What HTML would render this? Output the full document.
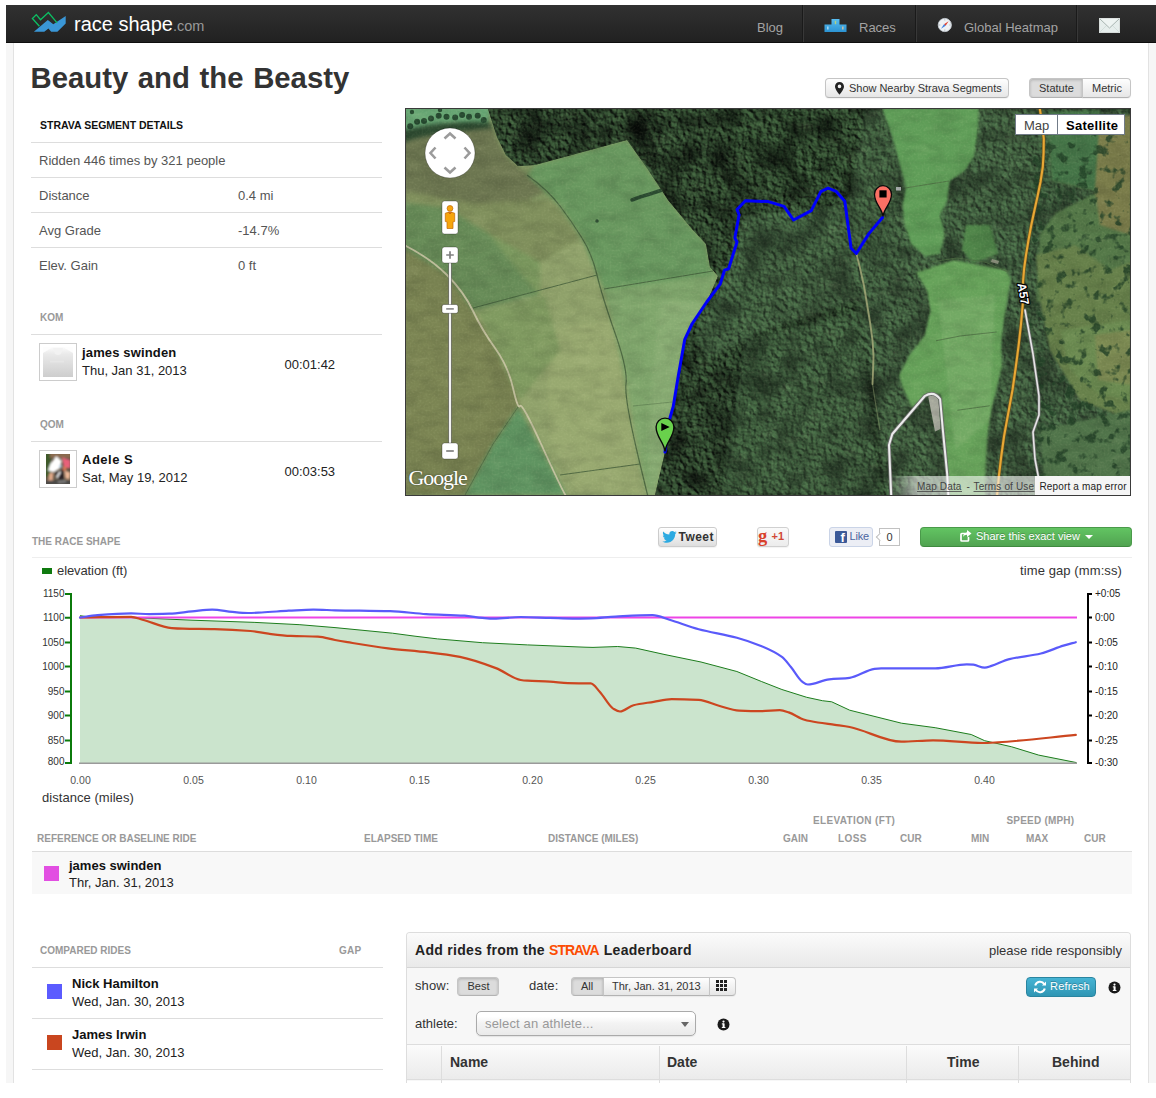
<!DOCTYPE html>
<html>
<head>
<meta charset="utf-8">
<title>Beauty and the Beasty - raceshape.com</title>
<style>
*{box-sizing:border-box;margin:0;padding:0}
html,body{width:1156px;height:1098px;overflow:hidden;background:#fff}
body{font-family:"Liberation Sans",sans-serif;font-size:13px;color:#333;position:relative}
.abs{position:absolute}
.t{position:absolute;white-space:nowrap;line-height:1}
#hdr{position:absolute;left:6px;top:5px;width:1150px;height:38px;background:linear-gradient(#313131,#212121);border-bottom:1px solid #0e0e0e}
#hdr .sep{position:absolute;top:0;width:2px;height:37px;background:#1a1a1a;border-right:1px solid #383838}
#hdr .nav{position:absolute;color:#a3a3a3;font-size:13px;line-height:1;white-space:nowrap;top:15.7px}
#wrap{position:absolute;left:6px;top:43px;width:1150px;height:1040px;background:#f6f6f6}
#page{position:absolute;left:13px;top:43px;width:1136px;height:1040px;background:#fff;border-left:1px solid #e2e2e2;border-right:1px solid #e2e2e2}
.hr{position:absolute;height:1px;background:#ddd}
.cap{font-weight:bold;font-size:10px;color:#999}
.b13{font-weight:bold;font-size:13px;color:#111}
.d13{font-size:13px;color:#222}
.g13{font-size:13px;color:#555}
.btn{position:absolute;border:1px solid #c5c5c5;border-bottom-color:#b3b3b3;border-radius:4px;background:linear-gradient(#fefefe,#e6e6e6);font-size:11px;color:#333;white-space:nowrap;box-shadow:0 1px 1px rgba(0,0,0,.05)}
.btn.on{background:#dcdcdc;box-shadow:inset 0 1px 3px rgba(0,0,0,.2)}
.sq{position:absolute;width:15px;height:15px}
.av{position:absolute;width:38px;height:38px;border:1px solid #ccc;background:#fff;padding:2px}
.av div{width:32px;height:32px}
</style>
</head>
<body>
<div id="wrap"></div>
<div id="page"></div>

<!-- HEADER -->
<div id="hdr">
  <svg class="abs" style="left:24px;top:5px" width="40" height="28" viewBox="30 10 40 28">
    <polygon points="33.9,31.8 47.8,20.1 53.3,24.2 65.7,15.9 65.7,23.5 57.4,31.8 51.2,31.8 48.4,28.4 44.3,31.8" fill="#3a96d6"/>
    <polyline points="39.4,26.3 32.4,18.5 36.3,14.7 40.5,19.7 48.4,12.5 57.1,22.8" fill="none" stroke="#0cbf63" stroke-width="1.3"/>
  </svg>
  <div class="t" id="logo1" style="left:68px;top:9px;font-size:20px;color:#fff">race shape</div>
  <div class="t" id="logo2" style="left:167px;top:14px;font-size:14.5px;color:#999">.com</div>
  <div class="nav" id="nblog" style="left:751px">Blog</div>
  <div class="sep" style="left:796px"></div>
  <svg class="abs" style="left:818px;top:14px" width="23" height="13" viewBox="0 0 23 13"><defs><linearGradient id="pod" x1="0" y1="0" x2="0" y2="1"><stop offset="0" stop-color="#58bdf0"/><stop offset="1" stop-color="#2c93d2"/></linearGradient></defs><path d="M7.500 0h8v5.500h7v7.500h-22v-7.500h7z" fill="url(#pod)"/><rect x="10.800" y="1.800" width="1.400" height="3.400" fill="#c8d86a" opacity=".8"/><rect x="3" y="7.500" width="1.600" height="3" fill="#bfe3f7" opacity=".8"/><rect x="18" y="7.500" width="1.600" height="3" fill="#e8c79a" opacity=".8"/></svg>
  <div class="nav" id="nraces" style="left:853px">Races</div>
  <div class="sep" style="left:909px"></div>
  <svg class="abs" style="left:931px;top:12.300px" width="16" height="16" viewBox="0 0 16 16"><circle cx="7.800" cy="8" r="6.600" fill="#eef2f5" stroke="#c5ccd2" stroke-width=".9"/><g stroke="#9aa4ad" stroke-width=".7"><path d="M7.800 2.200v1.300M7.800 12.500v1.300M2 8h1.300M12.300 8h1.300"/></g><path d="M11.600 4.200L8.600 8.800 7 7.200z" fill="#e04030"/><path d="M4 11.800L7 7.200l1.600 1.600z" fill="#3c7fe0"/></svg>
  <div class="nav" id="nheat" style="left:958px">Global Heatmap</div>
  <div class="sep" style="left:1070px"></div>
  <svg class="abs" style="left:1093px;top:13px" width="21" height="15" viewBox="0 0 21 15"><rect x=".3" y=".3" width="20.400" height="14.400" fill="#e6eeec" stroke="#f4f8f7" stroke-width=".6"/><path d="M.5 14.500L8 7M20.500 14.500L13 7" stroke="#d3dedb" stroke-width="1" fill="none"/><path d="M.8 .8L10.500 10 20.200 .8" fill="#eef4f2" stroke="#a8b5b1" stroke-width="1"/></svg>
</div>

<!-- TITLE -->
<div class="t" id="title" style="left:30.5px;top:63.3px;font-size:29.3px;font-weight:bold;color:#333;word-spacing:1.5px">Beauty and the Beasty</div>

<!-- TOP RIGHT BUTTONS -->
<div class="btn" style="left:825px;top:78px;width:184px;height:20px"></div>
<svg class="abs" style="left:835px;top:82px" width="9" height="13" viewBox="0 0 9 13"><path d="M4.5 0C2 0 0 2 0 4.4 0 7.5 4.5 12.6 4.5 12.6S9 7.5 9 4.400C9 2 7 0 4.500 0zm0 6.200a1.800 1.800 0 1 1 0-3.600 1.800 1.800 0 0 1 0 3.600z" fill="#222"/></svg>
<div class="t" id="nearby" style="left:849px;top:83px;font-size:11px;color:#333;letter-spacing:-.03px">Show Nearby Strava Segments</div>
<div class="btn on" style="left:1029px;top:78px;width:54px;height:20px;border-radius:4px 0 0 4px"></div>
<div class="btn" style="left:1082px;top:78px;width:49px;height:20px;border-radius:0 4px 4px 0"></div>
<div class="t" id="statute" style="left:1039px;top:83px;font-size:11px;color:#333">Statute</div>
<div class="t" id="metric" style="left:1092px;top:83px;font-size:11px;color:#333">Metric</div>

<!-- LEFT PANEL -->
<div class="t" id="ssd" style="left:40px;top:120px;font-size:10.5px;font-weight:bold;color:#111">STRAVA SEGMENT DETAILS</div>
<div class="hr" style="left:31px;top:142px;width:351px"></div>
<div class="t g13" id="ridden" style="left:39px;top:154px">Ridden 446 times by 321 people</div>
<div class="hr" style="left:31px;top:177px;width:351px"></div>
<div class="t g13" style="left:39px;top:189px">Distance</div><div class="t g13" style="left:238px;top:189px">0.4 mi</div>
<div class="hr" style="left:31px;top:212px;width:351px"></div>
<div class="t g13" style="left:39px;top:224px">Avg Grade</div><div class="t g13" style="left:238px;top:224px">-14.7%</div>
<div class="hr" style="left:31px;top:247px;width:351px"></div>
<div class="t g13" style="left:39px;top:259px">Elev. Gain</div><div class="t g13" style="left:238px;top:259px">0 ft</div>

<div class="t cap" id="kom" style="left:40px;top:312.500px">KOM</div>
<div class="hr" style="left:31px;top:334px;width:351px"></div>
<div class="av" style="left:39px;top:343px"></div>
<svg class="abs" style="left:43px;top:347px" width="30" height="30" viewBox="0 0 30 30"><defs><linearGradient id="avg" x1="0" y1="0" x2="0" y2="1"><stop offset="0" stop-color="#fbfbfb"/><stop offset=".25" stop-color="#e9e9e9"/><stop offset="1" stop-color="#cdcdcd"/></linearGradient><filter id="avb"><feGaussianBlur stdDeviation=".7"/></filter></defs><rect width="30" height="30" fill="url(#avg)"/><g filter="url(#avb)"><path d="M0,0H10L0,6Z M30,0H20L30,6Z" fill="#fdfdfd"/><path d="M10,1h10l-2,6q-3,2 -6,0z" fill="#f2f2f2"/><rect x="7" y="13.500" width="14" height="2" fill="#e6e6e6"/></g></svg>
<div class="t b13" id="kname" style="left:82px;top:345.6px;letter-spacing:.15px">james swinden</div>
<div class="t d13" style="left:82px;top:363.7px">Thu, Jan 31, 2013</div>
<div class="t d13" id="ktime" style="left:284.5px;top:358px">00:01:42</div>

<div class="t cap" style="left:40px;top:419.500px">QOM</div>
<div class="hr" style="left:31px;top:441px;width:351px"></div>
<div class="av" style="left:39px;top:450px"></div>
<svg class="abs" style="left:46px;top:454px" width="24" height="30" viewBox="0 0 24 30"><defs><filter id="avb2" x="-20%" y="-20%" width="140%" height="140%"><feGaussianBlur stdDeviation="1"/></filter><clipPath id="avc"><rect width="24" height="30"/></clipPath></defs><g clip-path="url(#avc)"><rect width="24" height="30" fill="#5a5040"/><g filter="url(#avb2)"><rect x="-1" y="-1" width="6" height="24" fill="#3d5a2a"/><rect x="4" y="-1" width="21" height="5" fill="#8a6a50"/><path d="M15.700,3.600L24.500,5.900 24.500,14.500 18,13.500z" fill="#e8607a"/><path d="M10.200,2.300L15.700,6.800 13.900,14.600 7.500,18.200 2,16.400 4.300,10z" fill="#fff"/><path d="M8.400,18.200L18,15.400 17.500,27.300 10.200,24z" fill="#2a2428"/><path d="M3.400,19L7.500,18.500 7,26.400 1.600,28.200z" fill="#e0a888"/><path d="M18.400,16.400L24.500,18.200 23.500,25.500 19.400,24.600z" fill="#ecb898"/><path d="M17,12l4,1 -1,4 -3.500,-1z" fill="#d87858"/><circle cx="14.500" cy="12.300" r="1.500" fill="#a8c8e0"/><path d="M14.300,17.500L10.500,24" stroke="#fff" stroke-width="1.600"/><rect x="-1" y="26.500" width="26" height="4" fill="#4a4a4a"/><path d="M12,27l8,-1 0,2 -8,1z" fill="#888"/></g></g></svg>
<div class="t b13" style="left:82px;top:452.8px;letter-spacing:.5px">Adele S</div>
<div class="t d13" style="left:82px;top:470.9px">Sat, May 19, 2012</div>
<div class="t d13" style="left:284.5px;top:465px">00:03:53</div>

<!-- MAP -->
<div class="abs" style="left:405px;top:108px;width:726px;height:388px;background:#3a3a3a"></div>
<svg class="abs" style="left:406px;top:109px" width="724" height="386" viewBox="406 109 724 386">
<defs>
  <filter color-interpolation-filters="sRGB" id="fz" x="0" y="0" width="100%" height="100%"><feGaussianBlur stdDeviation="2.2"/></filter>
  <filter color-interpolation-filters="sRGB" id="fz05" x="-10%" y="-10%" width="120%" height="120%"><feGaussianBlur stdDeviation=".6"/></filter>
  <filter color-interpolation-filters="sRGB" id="fz1" x="0" y="0" width="100%" height="100%"><feGaussianBlur stdDeviation="1"/></filter>
  <filter color-interpolation-filters="sRGB" id="trees" x="0" y="0" width="100%" height="100%">
    <feTurbulence type="fractalNoise" baseFrequency="0.22" numOctaves="3" seed="7" result="n"/>
    <feColorMatrix in="n" type="matrix" values="0 0 0 0 0  0 0 0 0 0  0 0 0 0 0  1.6 1.6 0 0 -1.25"/>
  </filter>
  <filter color-interpolation-filters="sRGB" id="grain" x="0" y="0" width="100%" height="100%">
    <feTurbulence type="fractalNoise" baseFrequency="0.5" numOctaves="2" seed="3" result="n"/>
    <feColorMatrix in="n" type="matrix" values="0 0 0 0 1  0 0 0 0 1  0 0 0 0 0.8  1.2 1.2 0 0 -1.05"/>
  </filter>
  <filter color-interpolation-filters="sRGB" id="treesL" x="0" y="0" width="100%" height="100%">
    <feTurbulence type="fractalNoise" baseFrequency="0.3" numOctaves="2" seed="21" result="n"/>
    <feColorMatrix in="n" type="matrix" values="0 0 0 0 0.36  0 0 0 0 0.50  0 0 0 0 0.37  1.8 1.8 0 0 -1.7"/>
  </filter>
  <filter color-interpolation-filters="sRGB" id="sparse" x="0" y="0" width="100%" height="100%">
    <feTurbulence type="fractalNoise" baseFrequency="0.09" numOctaves="3" seed="5" result="n"/>
    <feColorMatrix in="n" type="matrix" values="0 0 0 0 0.13  0 0 0 0 0.25  0 0 0 0 0.15  5 5 0 0 -5.4"/>
  </filter>
  <filter color-interpolation-filters="sRGB" id="sparse2" x="0" y="0" width="100%" height="100%">
    <feTurbulence type="fractalNoise" baseFrequency="0.07" numOctaves="3" seed="11" result="n"/>
    <feColorMatrix in="n" type="matrix" values="0 0 0 0 0.12  0 0 0 0 0.22  0 0 0 0 0.14  6 6 0 0 -6.9"/>
  </filter>
  <filter color-interpolation-filters="sRGB" id="canopy" x="0" y="0" width="100%" height="100%">
    <feTurbulence type="fractalNoise" baseFrequency="0.2" numOctaves="3" seed="4" result="n"/>
    <feDiffuseLighting in="n" surfaceScale="2.6" diffuseConstant="1" lighting-color="#4d7549" result="l"><feDistantLight azimuth="140" elevation="40"/></feDiffuseLighting>
    <feGaussianBlur in="l" stdDeviation="0.55" result="lb"/>
    <feTurbulence type="fractalNoise" baseFrequency="0.035" numOctaves="2" seed="9" result="lowf"/>
    <feColorMatrix in="lowf" type="matrix" values="0 0 0 0 0  0 0 0 0 0  0 0 0 0 0  -2.2 0 0 0 1.25" result="shade"/>
    <feComposite in="shade" in2="lb" operator="over" result="c"/>
    <feComposite in="c" in2="SourceGraphic" operator="in"/>
  </filter>
  <filter color-interpolation-filters="sRGB" id="ftex" x="0" y="0" width="100%" height="100%">
    <feTurbulence type="fractalNoise" baseFrequency="0.045 0.09" numOctaves="4" seed="12" result="n"/>
    <feColorMatrix in="n" type="matrix" values="0 0 0 0 0  0 0 0 0 0  0 0 0 0 0  2.4 0 0 0 -0.95" result="dark"/>
    <feColorMatrix in="n" type="matrix" values="0 0 0 0 1  0 0 0 0 1  0 0 0 0 .8  0 -2.4 0 0 0.98" result="light"/>
    <feComposite in="dark" in2="light" operator="over"/>
  </filter>
  <clipPath id="forestclip"><path id="forestp" d="M488,109 L497,137 506,155 518,166 535,165 627,140 647,168 668,200 692,229 706,244 710,267 718,276 707,302 692,324 685,340 678,375 673,407 669,421 665,452 655,495 1130,495 1130,109Z"/></clipPath>
  <clipPath id="fieldclip"><path d="M406,109 L488,109 497,137 506,155 518,166 535,165 627,140 647,168 668,200 692,229 706,244 710,267 718,276 707,302 692,324 685,340 678,375 673,407 669,421 665,452 655,495 406,495Z"/></clipPath>
  <linearGradient id="gO" x1="0" y1="0" x2="0" y2="1"><stop offset="0" stop-color="#5f6a44"/><stop offset=".3" stop-color="#6c7a4e"/><stop offset=".55" stop-color="#63824f"/><stop offset="1" stop-color="#727848"/></linearGradient>
  <linearGradient id="gG" x1="0" y1="0" x2="0" y2="1"><stop offset="0" stop-color="#5e9060"/><stop offset=".45" stop-color="#5c8c58"/><stop offset=".55" stop-color="#7ea46c"/><stop offset="1" stop-color="#86a76f"/></linearGradient>
</defs>
<!-- base forest -->
<rect x="406" y="109" width="724" height="386" fill="#29412d"/>
<!-- lighter mixed woodland on right half -->
<g filter="url(#fz)">
<path d="M860,109 L1130,109 1130,495 880,495 870,400 850,300 840,200Z" fill="#2f4b33"/>
<path d="M740,330 L860,300 880,495 700,495 710,400Z" fill="#314d34"/>
<path d="M720,109 L860,109 850,180 770,195 735,160Z" fill="#2c4630"/>
<path d="M740,215 L850,205 856,300 760,330 700,360 690,330 720,280Z" fill="#304b33"/>
<path d="M488,109 L720,109 735,160 700,235 668,200 647,168 627,140 535,165 518,166 506,155Z" fill="#1f3324"/>
<path d="M690,330 L760,330 720,495 656,495 668,420Z" fill="#243b29"/>
</g>
<!-- FIELDS left -->
<g clip-path="url(#fieldclip)">
 <rect x="406" y="109" width="330" height="386" fill="#829863"/>
 <g filter="url(#fz)">
  <!-- upper-left olive -->
  <path d="M400,138 L489,121 505,156 524,172 545,192 520,204 478,206 441,202 400,196Z" fill="#6c7650"/>
  <path d="M400,190 L441,198 478,204 524,200 552,200 575,230 585,262 540,270 500,250 470,222 440,208 400,204Z" fill="#7f8f5c"/>
  <!-- greener lower-left of upper area -->
  <path d="M400,202 L447,208 489,234 522,275 540,296 474,312 447,275 400,246Z" fill="#678c58"/>
  <path d="M489,234 L540,262 585,262 597,275 540,296 522,275Z" fill="#7a985e"/>
  <!-- pale mid fields between track and hedge -->
  <path d="M540,262 L582,238 597,275 615,333 626,384 640,464 648,495 566,495 542,446 520,406 513,388 495,348 473,311 540,295Z" fill="#90a26b"/>
  <path d="M545,330 L610,320 630,420 640,495 580,495 550,440Z" fill="#98a970"/>
  <path d="M478,312 L545,296 560,350 520,400 495,348Z" fill="#7f9a60"/>
  <!-- green right field -->
  <path d="M527,175 L535,165 627,140 647,168 668,200 692,229 706,244 710,267 718,276 604,290 597,275 582,238 560,206Z" fill="#68985f"/>
  <path d="M604,290 L718,274 707,302 692,324 685,340 678,375 673,407 669,421 665,452 655,495 648,495 640,464 626,384 615,333Z" fill="#7fa66c"/>
  <path d="M660,300 L707,302 692,324 685,340 678,375 673,407 669,421 665,452 655,495 648,495 650,400Z" fill="#88ac73"/>
  <!-- left of track brown/olive -->
  <path d="M400,246 L447,275 473,311 495,348 513,388 520,406 493,444 465,495 400,495Z" fill="#778150"/>
  <path d="M400,300 L440,290 480,340 500,400 470,460 400,440Z" fill="#7b8553"/>
  <!-- green triangle -->
  <path d="M518,407 L566,495 465,495 493,444Z" fill="#5f9461"/>
  <!-- top-left light patch and tree band -->
  <path d="M400,100 L492,100 489,122 457,122 426,126 400,132Z" fill="#66a573"/>
  <path d="M400,131 L426,125.500 457,122 488,121.500 493,128 457,131.500 422,137 400,143Z" fill="#2c4a30"/>
 </g>
 <!-- hedges -->
 <g fill="none" stroke="#3f5a38" stroke-width="1.2" opacity=".8">
  <path d="M527,175 Q548,190 560,206 T582,238 597,275 615,333 626,384 640,464 648,495"/>
  <path d="M473,308 L597,275" stroke-width="1"/>
  <path d="M604,289 L713,271" stroke-width="1"/>
  <path d="M560,475 L640,464" stroke-width="1"/>
  <path d="M633,406 L672,402" stroke-width=".8" opacity=".6"/>
  <path d="M518,407 L493,444 465,495" stroke-width="1" opacity=".7"/>
 </g>
 <g fill="#264a30" filter="url(#fz05)"><circle cx="410.2" cy="126.2" r="3.0"/><circle cx="417.1" cy="121.8" r="3.0"/><circle cx="424.0" cy="121.0" r="3.0"/><circle cx="431.0" cy="118.4" r="3.0"/><circle cx="438.7" cy="115.8" r="3.0"/><circle cx="446.5" cy="116.7" r="3.0"/><circle cx="455.2" cy="117.5" r="3.0"/><circle cx="462.1" cy="114.9" r="3.0"/><circle cx="469.0" cy="116.7" r="3.0"/><circle cx="477.7" cy="115.8" r="3.0"/><circle cx="483.7" cy="120.1" r="3.0"/><circle cx="412.0" cy="112.0" r="2.2"/><circle cx="440.0" cy="110.0" r="2.2"/></g>
 <path d="M632,200 l8,-3 10,-3 12,-4" stroke="#2a4a30" stroke-width="3.500" fill="none" stroke-linecap="round"/>
 <circle cx="597" cy="221" r="1.800" fill="#2f4f34"/>
 <!-- track -->
 <path d="M404,245 Q430,258 447,275 T473,311 495,348 513,388 520,406 542,446 566,496" fill="none" stroke="#cbc7a6" stroke-width="1.800" opacity=".9"/>
</g>
<!-- tree texture -->
<g clip-path="url(#forestclip)">
<rect x="406" y="109" width="724" height="386" filter="url(#canopy)" fill="#000" opacity=".8"/>
</g>
<g filter="url(#fz)" opacity=".2" clip-path="url(#forestclip)">
<path d="M865,109 L1130,109 1130,495 885,495 875,400 858,300 850,200Z" fill="#7fb07f"/>
<path d="M745,215 L850,205 858,300 765,330 705,360 695,330 725,280Z" fill="#7fb07f"/>
<path d="M745,340 L860,310 880,495 720,495Z" fill="#6fa070"/>
</g>
<!-- RIGHT MEADOWS -->
<g filter="url(#fz1)">
 <path d="M882,108 L892.500,137 901,169 906,188 902.500,205 904.700,225 911,244 925.400,256.300 940,253.800 944.800,234.400 940,215 947.200,200.400 949.700,181 964.200,171.200 974,156.600 977.600,132.300 978.800,108Z" fill="#5f9d58"/>
 <path d="M916,272.500 L954,260 1005.500,270 1011,279 1008,295 1004.400,317 1001,344 1002,366.600 996.600,389 992,407 987.600,434 985.400,474 985,496 948.500,496 947.200,474 944,429 940.500,394 925,396 912,408 902.400,386.700 899,375.500 909,355.400 924.800,335.200 930.400,310.500 927,290.300Z" fill="#66a25a"/>
 <path d="M938,300 L995,295 990,420 955,450Z" fill="#72a964"/>
 <path d="M966,225 L990,225 998,254 973,263 962,250Z" fill="#4f8549"/>
 <!-- moor far right -->
 <path d="M1048,135 L1131,135 1131,302 1036,302 1040,234 1056,213 1098,192 1052,181Z" fill="#547848"/>
 <path d="M1095,120 L1131,115 1131,235 1100,225 1092,170Z" fill="#7a7c4a"/>
 <path d="M1036,255 L1075,245 1110,270 1131,262 1131,420 1080,400 1050,350 1040,300Z" fill="#66804a"/>
 <path d="M1060,330 L1131,320 1131,400 1100,395 1070,370Z" fill="#6a8a50"/>
 <path d="M1095,335 L1131,330 1131,385 1098,380Z" fill="#7b8a52"/>
 <path d="M1048,112 L1100,110 1095,190 1052,180Z" fill="#447447"/>
 <path d="M1040,430 L1131,410 1131,495 1045,495Z" fill="#50744a"/>
</g>
<g fill="none" stroke="#4a6a40" stroke-width="1.100" opacity=".75"><path d="M936,340.800 L960,336 996.600,332"/><path d="M957.300,410.300 L989.800,405.800"/><path d="M905,188 L949,181"/><path d="M930,262 L957,258 985,262 1008,272"/></g>
<path d="M928.200,396.500 L938,394 940.500,429 935,431.500Z" fill="#b4b4aa" opacity=".9"/>
<rect x="896" y="187" width="5" height="3.500" fill="#b9bcc0" opacity=".85"/>
<path d="M992,259 l7,2 -1,3 -7,-2z" fill="#9a9a8a" opacity=".8"/>
<!-- scattered trees on moor + meadow edges -->
<rect x="1030" y="109" width="100" height="386" filter="url(#sparse)" opacity=".8"/>
<rect x="406" y="109" width="724" height="386" filter="url(#grain)" opacity=".10"/>
<rect x="406" y="109" width="724" height="386" filter="url(#ftex)" opacity=".09"/>
<!-- dirt track from end -->
<path d="M856.500,254 L860,268 864,286 867,304 870,322 872.500,340 873.500,356 873,372 872.500,384" fill="none" stroke="#a3a878" stroke-width="1.900" opacity=".85" stroke-linecap="round"/><path d="M872.500,384 L875,400 878,418 880,430" fill="none" stroke="#8a9a6c" stroke-width="1.200" opacity=".5"/>
<!-- white roads -->
<g fill="none" stroke-linecap="round" stroke-linejoin="round">
 <path d="M891.200,496 L889,445 892.300,434 924.800,396 Q933.800,390.500 940.100,399 L942.800,429.300 947.200,474.200 948.400,496" stroke="#707070" stroke-width="3.600"/>
 <path d="M891.200,496 L889,445 892.300,434 924.800,396 Q933.800,390.500 940.100,399 L942.800,429.300 947.200,474.200 948.400,496" stroke="#ececec" stroke-width="2"/>
 <path d="M1025,310 L1033,354 1039,396 1039,415 1033,432 1035,459 1042,496" stroke="#707070" stroke-width="3"/>
 <path d="M1025,310 L1033,354 1039,396 1039,415 1033,432 1035,459 1042,496" stroke="#e6e6e6" stroke-width="1.600"/>
 <!-- A57 -->
 <path d="M1039.500,107 L1042,122 1043.800,139 1043.600,153 1042.800,167 1040.500,182 1037.600,196 1034.300,211 1031.300,225 1028.500,240 1026.100,254.500 1024.200,268 1023,282 1022.800,293 1022.800,304 1021,324 1018.800,344 1015.800,367 1012.500,390 1008.300,413 1004.100,436 1001.300,456 998.900,476 997,496" stroke="#6b5520" stroke-width="3.400"/>
 <path d="M1039.500,107 L1042,122 1043.800,139 1043.600,153 1042.800,167 1040.500,182 1037.600,196 1034.300,211 1031.300,225 1028.500,240 1026.100,254.500 1024.200,268 1023,282 1022.800,293 1022.800,304 1021,324 1018.800,344 1015.800,367 1012.500,390 1008.300,413 1004.100,436 1001.300,456 998.900,476 997,496" stroke="#e8a835" stroke-width="2.100"/>
</g>
<!-- A57 shield -->
<g transform="translate(1019.300,294.500) rotate(81)"><text x="0" y="0" font-family="Liberation Sans" font-size="12" font-weight="bold" fill="#fff" stroke="#000" stroke-width="2.400" stroke-linejoin="round" paint-order="stroke" text-anchor="middle" style="paint-order:stroke">A57</text></g>
<!-- route -->
<path d="M665,452 L669,421.300 673.200,406.700 678.400,375.300 684.700,339.700 692,324 706.700,302 720.300,283.800 724.500,270.200 728.600,268.800 737,242 734.900,237.800 739.100,214.800 737,209.500 745.400,200.700 768.400,201.600 784.100,206.400 793.500,220 811.300,210.600 820.800,191.700 828.100,188 836.500,191.700 844.800,201.200 851.100,248.300 856.300,253.500 868.900,233.600 882.500,217.500" fill="none" stroke="#0000fa" stroke-width="3" stroke-linejoin="round" stroke-linecap="round"/>
<!-- markers -->
<g id="mstart" transform="translate(665,451.500)"><path d="M0,0 C-0.800,-9.500 -8.900,-14 -8.900,-24.500 A8.900,8.900 0 1 1 8.900,-24.500 C8.900,-14 0.800,-9.500 0,0Z" fill="#69d14c" stroke="#0a0a0a" stroke-width="1.400"/><path d="M-3.700,-28.400 L4.700,-24.400 -3.700,-20.500Z" fill="#000"/></g>
<g id="mend" transform="translate(883,216.500)"><path d="M0,0 C-0.800,-8.500 -8.500,-12.500 -8.500,-22.300 A8.500,8.500 0 1 1 8.500,-22.300 C8.500,-12.500 0.800,-8.500 0,0Z" fill="#fb7064" stroke="#0a0a0a" stroke-width="1.300"/><rect x="-3.600" y="-26.200" width="7.200" height="7.200" fill="#000"/></g>
<!-- bottom strip -->
<defs><linearGradient id="strip" x1="0" x2="1"><stop offset="0" stop-color="#fff" stop-opacity="0"/><stop offset=".18" stop-color="#fff" stop-opacity=".55"/><stop offset="1" stop-color="#fff" stop-opacity=".6"/></linearGradient></defs>
<rect x="890" y="476" width="146" height="19" fill="url(#strip)"/>
<rect x="1035" y="476" width="95" height="19" fill="#f5f5f5"/>
<g font-family="Liberation Sans" font-size="10" fill="#444" letter-spacing=".15">
 <text x="917" y="489.500">Map Data</text><text x="966.500" y="489.500">-</text><text x="973.500" y="489.500">Terms of Use</text>
 <path d="M917,491.500h45M973.500,491.500h61" stroke="#444" stroke-width=".8"/>
 <text x="1039.500" y="489.500" fill="#222">Report a map error</text>
</g>
<!-- Google logo -->
<text x="408.500" y="484.800" font-family="Liberation Serif" font-size="22" fill="#fff" letter-spacing="-1.1" style="text-shadow:0 0 2px rgba(0,0,0,.5)">Google</text>
<!-- Map / Satellite -->
<g>
 <rect x="1015.500" y="114.500" width="109" height="20" fill="#fff" stroke="#717b87" stroke-width="1"/>
 <path d="M1057.500,114.500v20" stroke="#717b87"/>
 <text x="1024" y="129.500" font-family="Liberation Sans" font-size="13" fill="#444">Map</text>
 <text x="1066" y="129.500" font-family="Liberation Sans" font-size="13" font-weight="bold" fill="#000" textLength="52">Satellite</text>
</g>
<!-- pan control -->
<circle cx="450" cy="153" r="25" fill="#fff" stroke="rgba(0,0,0,.25)" stroke-width="1"/>
<g fill="none" stroke="#9b9b9b" stroke-width="2.600" stroke-linejoin="miter">
 <path d="M444.500,138.500 L450,133.500 455.500,138.500"/><path d="M444.500,167.500 L450,172.500 455.500,167.500"/>
 <path d="M435.500,147.500 L430.500,153 435.500,158.500"/><path d="M464.500,147.500 L469.500,153 464.500,158.500"/>
</g>
<!-- pegman -->
<rect x="442" y="201" width="16" height="33" rx="2.500" fill="#fff" stroke="rgba(0,0,0,.35)" stroke-width=".8"/>
<g fill="#f6a50d" stroke="#c0690c" stroke-width=".7"><circle cx="450" cy="208.400" r="2.900"/><path d="M445.300,213.200 Q450,210.800 454.700,213.200 L454.700,221.500 453,221.800 453,228.500 447,228.500 447,221.800 445.300,221.500Z"/></g>
<path d="M448.500,211.800 L450,214 451.500,211.800" fill="none" stroke="#c0500c" stroke-width=".8"/>
<!-- zoom slider -->
<rect x="448.700" y="262" width="2.600" height="183" fill="#fff" stroke="rgba(70,70,70,.75)" stroke-width=".8"/>
<rect x="442" y="247" width="16" height="16" rx="2.500" fill="#fff" stroke="rgba(0,0,0,.35)" stroke-width=".8"/>
<path d="M446.200,255h7.600M450,251.200v7.600" stroke="#808080" stroke-width="1.700"/>
<rect x="442" y="443" width="16" height="16" rx="2.500" fill="#fff" stroke="rgba(0,0,0,.35)" stroke-width=".8"/>
<path d="M446.200,451h7.600" stroke="#808080" stroke-width="1.700"/>
<rect x="442" y="304.500" width="16" height="8.800" rx="2" fill="#fff" stroke="rgba(0,0,0,.4)" stroke-width=".8"/>
<path d="M446.200,308.900h7.600" stroke="#808080" stroke-width="1.500"/>
</svg>

<!-- RACE SHAPE -->
<div class="t cap" id="trs" style="left:32px;top:536.5px;font-size:10px">THE RACE SHAPE</div>
<!-- tweet -->
<div class="btn" style="left:658px;top:527px;width:59px;height:20px;border-radius:3px;border-color:#ccc;background:linear-gradient(#fff,#dedede)"></div>
<svg class="abs" style="left:662px;top:531px" width="15" height="12" viewBox="0 0 24 20"><path d="M24 2.400c-.900.400-1.800.700-2.800.800 1-.600 1.800-1.600 2.200-2.700-.900.600-2 1-3.100 1.200C19.300.700 18 0 16.600 0c-2.700 0-4.900 2.200-4.900 4.900 0 .400 0 .800.100 1.100C7.700 5.800 4.100 3.900 1.700.900c-.400.700-.700 1.600-.700 2.500 0 1.700.900 3.200 2.200 4.100-.800 0-1.600-.200-2.200-.600v.100c0 2.400 1.700 4.400 3.900 4.800-.400.100-.800.200-1.300.200-.300 0-.600 0-.900-.100.600 2 2.400 3.400 4.600 3.400-1.700 1.300-3.800 2.100-6.100 2.100-.400 0-.800 0-1.200-.100 2.200 1.400 4.800 2.200 7.500 2.200 9.100 0 14-7.500 14-14v-.600c1-.700 1.800-1.600 2.500-2.500z" fill="#2daae1"/></svg>
<div class="t" style="left:678.500px;top:531.300px;font-size:12px;font-weight:bold;color:#333;letter-spacing:.45px">Tweet</div>
<!-- g+1 -->
<div class="btn" style="left:757px;top:527px;width:32px;height:20px;border-radius:3px;border-color:#d0d0d0;background:linear-gradient(#fafafa,#ececec)"></div>
<div class="t" style="left:758px;top:526.5px;font-family:'Liberation Serif',serif;font-size:18.5px;font-weight:bold;color:#d9412c;">g</div>
<div class="t" style="left:771.500px;top:531px;font-size:11px;font-weight:bold;color:#d14836">+1</div>
<!-- fb like -->
<div class="abs" style="left:829px;top:527px;width:44px;height:20px;border:1px solid #cad4e7;border-radius:3px;background:#eceef5"></div>
<div class="abs" style="left:834.5px;top:530.5px;width:12.5px;height:12.5px;background:#3b5998;border-radius:1px"></div>
<div class="t" style="left:840.5px;top:531px;font-size:13px;font-weight:bold;color:#fff;">f</div>
<div class="t" style="left:849.5px;top:531px;font-size:11px;color:#4a64a0;letter-spacing:-.2px">Like</div>
<div class="abs" style="left:879px;top:528px;width:21px;height:18px;border:1px solid #c1c1c1;background:#fff"></div>
<div class="abs" style="left:876.500px;top:534px;width:6px;height:6px;background:#fff;border-left:1px solid #c1c1c1;border-bottom:1px solid #c1c1c1;transform:rotate(45deg)"></div>
<div class="t" style="left:886.500px;top:531.500px;font-size:11px;color:#333">0</div>
<!-- share -->
<div class="abs" style="left:920px;top:527px;width:212px;height:20px;border-radius:4px;background:linear-gradient(#62c462,#51a351);border:1px solid #4a9a4a;border-bottom-color:#3f8a3f"></div>
<svg class="abs" style="left:959px;top:530px" width="13" height="13" viewBox="0 0 13 13"><path d="M9.500 7.500v2.700c0 .400-.400.800-.800.800H2.800c-.400 0-.800-.400-.800-.800V4.300c0-.400.400-.800.800-.800h3" fill="none" stroke="#fff" stroke-width="1.700" stroke-linecap="round"/><path d="M8 0l4.500 3.500L8 7V4.800C6 4.800 5 5.500 4.200 7c0-2.600 1.300-4.600 3.800-4.800z" fill="#fff"/></svg>
<div class="t" id="share" style="left:976px;top:531px;font-size:11px;color:#fff;text-shadow:0 -1px 0 rgba(0,0,0,.25)">Share this exact view</div>
<div class="abs" style="left:1085px;top:535px;width:0;height:0;border:4px solid transparent;border-top-color:#fff;border-bottom:0"></div>
<div class="hr" style="left:32px;top:557px;width:1100px;background:#eee"></div>

<!-- chart -->
<div class="abs" style="left:42px;top:568px;width:10px;height:6px;background:#0f7a0f"></div>
<div class="t" id="elab" style="left:57px;top:563.500px;font-size:13px;color:#333;letter-spacing:-.1px">elevation (ft)</div>
<div class="t" id="tgap" style="left:1020px;top:564px;font-size:13px;color:#333;letter-spacing:.1px">time gap (mm:ss)</div>
<svg class="abs" style="left:0;top:585px" width="1156" height="225" viewBox="0 585 1156 225">
 <!-- elevation area -->
 <path id="elev" d="M80,615.700 L88.500,616.800 131.200,617.500 192,620.200 254.900,622.400 299.900,624.700 335,627.600 392.500,633.200 415,636.200 437.500,638.900 482.400,642.700 527.400,644.900 585,647.200 593,647.400 617.700,646.500 635.700,648.100 665,654.600 701,662 736.900,671.500 761.700,681.600 781.900,689.500 806.700,697.300 822.400,700.700 831.700,701.800 849.700,710.200 901.500,723.200 935.200,727.700 971.200,734.500 984.700,740.700 1011.700,746.800 1038.700,755.100 1076.500,762.600 L1076.500,763 80,763Z" fill="#cbe4cd"/>
 <path d="M80,615.700 L88.500,616.800 131.200,617.500 192,620.200 254.900,622.400 299.900,624.700 335,627.600 392.500,633.200 415,636.200 437.500,638.900 482.400,642.700 527.400,644.900 585,647.200 593,647.400 617.700,646.500 635.700,648.100 665,654.600 701,662 736.900,671.500 761.700,681.600 781.900,689.500 806.700,697.300 822.400,700.700 831.700,701.800 849.700,710.200 901.500,723.200 935.200,727.700 971.200,734.500 984.700,740.700 1011.700,746.800 1038.700,755.100 1076.500,762.600" fill="none" stroke="#1d7d1d" stroke-width="1"/>
 <path d="M79,763.200H1077" stroke="#9a9a9a" stroke-width="1.400"/>
 <!-- baseline magenta -->
 <path d="M80,617.500H1077" stroke="#ee44e6" stroke-width="2"/>
 <!-- red -->
 <path d="M80.0,617.5 C97.1,617.3 114.1,616.8 131.2,616.8 C135.0,616.8 138.7,618.7 142.5,619.7 C152.2,622.3 162.0,627.2 171.7,628.1 C175.5,628.4 179.2,628.6 183.0,628.7 C193.5,629.0 204.0,628.9 214.5,629.2 C226.5,629.5 238.4,630.1 250.4,631.0 C256.4,631.5 262.4,633.0 268.4,633.7 C275.9,634.6 283.4,635.6 290.9,635.9 C299.9,636.3 308.9,636.2 317.9,636.6 C323.6,636.9 329.3,638.9 335.0,640.0 C339.2,640.8 343.3,641.5 347.5,642.2 C361.0,644.4 374.5,646.7 388.0,648.3 C401.5,649.9 415.0,650.8 428.5,652.4 C439.0,653.6 449.4,654.8 459.9,656.9 C471.9,659.3 483.9,663.6 495.9,668.1 C504.2,671.2 512.4,678.6 520.7,680.0 C522.9,680.4 525.2,680.6 527.4,680.7 C534.9,681.1 542.4,681.2 549.9,681.6 C555.9,681.9 561.9,683.1 567.9,683.2 C575.5,683.3 583.1,683.3 590.7,683.4 C593.7,683.5 596.7,688.5 599.7,691.7 C604.2,696.5 608.7,705.7 613.2,708.6 C615.5,710.0 617.7,711.5 620.0,711.5 C624.5,711.5 629.0,706.3 633.5,705.2 C640.2,703.5 647.0,702.9 653.7,701.8 C659.7,700.8 665.7,699.1 671.7,699.1 C680.7,699.1 689.7,699.4 698.7,699.8 C705.4,700.1 712.2,703.9 718.9,705.7 C725.7,707.5 732.4,710.3 739.2,710.6 C746.7,710.9 754.2,711.1 761.7,711.1 C767.7,711.1 773.7,710.2 779.7,710.2 C782.7,710.2 785.7,711.4 788.7,712.4 C793.9,714.1 799.2,718.3 804.4,719.8 C808.9,721.1 813.4,721.8 817.9,722.5 C823.6,723.4 829.3,724.0 835.0,724.8 C839.9,725.5 844.8,726.0 849.7,727.0 C867.0,730.4 884.2,741.7 901.5,741.7 C912.0,741.7 922.5,740.3 933.0,740.3 C949.5,740.3 965.9,743.0 982.4,743.0 C987.7,743.0 992.9,742.6 998.2,742.3 C1024.1,740.7 1049.9,737.4 1075.8,734.9" fill="none" stroke="#cc4620" stroke-width="2.200" stroke-linejoin="round" stroke-linecap="round"/>
 <!-- blue -->
 <path d="M80.0,617.5 C85.8,616.7 91.7,615.6 97.5,615.2 C108.7,614.3 120.0,613.4 131.2,613.4 C137.2,613.4 143.2,614.1 149.2,614.1 C156.0,614.1 162.7,613.9 169.5,613.7 C177.0,613.5 184.5,612.1 192.0,611.4 C198.7,610.8 205.5,609.6 212.2,609.6 C218.9,609.6 225.7,611.3 232.4,611.9 C237.7,612.4 242.9,613.0 248.2,613.0 C252.7,613.0 257.2,612.7 261.7,612.5 C270.7,612.1 279.7,611.2 288.7,610.7 C296.9,610.3 305.2,609.6 313.4,609.6 C320.6,609.6 327.8,610.1 335.0,610.3 C353.4,610.7 371.8,610.7 390.2,611.2 C402.2,611.5 414.2,613.4 426.2,614.1 C439.0,614.8 451.7,614.9 464.5,615.7 C470.5,616.1 476.4,617.4 482.4,617.9 C486.2,618.2 489.9,618.6 493.7,618.6 C502.7,618.6 511.7,617.0 520.7,617.0 C530.4,617.0 540.2,617.6 549.9,617.9 C557.4,618.1 564.9,618.6 572.4,618.6 C578.5,618.6 584.6,618.5 590.7,618.4 C599.0,618.2 607.2,617.0 615.5,616.6 C627.9,616.0 640.2,615.2 652.6,615.2 C658.2,615.2 663.9,618.1 669.5,619.7 C679.2,622.6 689.0,626.6 698.7,629.2 C711.4,632.6 724.2,634.2 736.9,637.7 C745.2,639.9 753.4,642.8 761.7,646.3 C768.4,649.1 775.2,652.1 781.9,656.9 C784.9,659.0 787.9,663.4 790.9,667.0 C794.7,671.5 798.4,678.8 802.2,681.6 C804.1,683.0 805.9,684.5 807.8,684.5 C814.9,684.5 822.1,680.1 829.2,679.3 C836.0,678.5 842.9,678.6 849.7,677.8 C858.0,676.8 866.2,669.8 874.5,668.8 C876.7,668.5 879.0,668.3 881.2,668.3 C899.2,668.3 917.2,668.3 935.2,668.3 C945.7,668.3 956.2,664.3 966.7,664.3 C968.9,664.3 971.2,664.5 973.4,664.7 C977.2,665.1 980.9,667.7 984.7,667.7 C986.9,667.7 989.2,666.6 991.4,665.9 C997.4,664.0 1003.4,660.6 1009.4,659.1 C1019.9,656.6 1030.4,656.0 1040.9,653.5 C1048.4,651.7 1055.9,647.9 1063.4,645.6 C1067.5,644.3 1071.7,643.3 1075.8,642.2" fill="none" stroke="#5a5afa" stroke-width="2.200" stroke-linejoin="round" stroke-linecap="round"/>
 <!-- left axis -->
 <path d="M71,593V764" stroke="#0b7a0b" stroke-width="2"/>
 <path d="M65,594h6M65,617.800h6M65,642.500h6M65,666.500h6M65,691.500h6M65,715.500h6M65,740.500h6M65,763h6" stroke="#0b7a0b" stroke-width="2"/>
 <g font-family="Liberation Sans" font-size="10" fill="#333" text-anchor="end">
  <text x="64.500" y="596.500">1150</text><text x="64.500" y="621">1100</text><text x="64.500" y="645.500">1050</text><text x="64.500" y="670">1000</text><text x="64.500" y="694.500">950</text><text x="64.500" y="718.500">900</text><text x="64.500" y="743.500">850</text><text x="64.500" y="765">800</text>
 </g>
 <!-- right axis -->
 <path d="M1088,593V764" stroke="#000" stroke-width="2"/>
 <path d="M1087,594h5M1087,617.500h5M1087,642.500h5M1087,666.500h5M1087,691.500h5M1087,715.500h5M1087,740.500h5M1087,763h5" stroke="#000" stroke-width="2"/>
 <g font-family="Liberation Sans" font-size="10" fill="#222">
  <text x="1095" y="596.500">+0:05</text><text x="1095" y="621">0:00</text><text x="1095" y="645.500">-0:05</text><text x="1095" y="670">-0:10</text><text x="1095" y="694.500">-0:15</text><text x="1095" y="718.500">-0:20</text><text x="1095" y="743.500">-0:25</text><text x="1095" y="765.500">-0:30</text>
 </g>
 <g font-family="Liberation Sans" font-size="10.500" fill="#555" text-anchor="middle">
  <text x="80.500" y="784">0.00</text><text x="193.500" y="784">0.05</text><text x="306.500" y="784">0.10</text><text x="419.500" y="784">0.15</text><text x="532.500" y="784">0.20</text><text x="645.500" y="784">0.25</text><text x="758.500" y="784">0.30</text><text x="871.500" y="784">0.35</text><text x="984.500" y="784">0.40</text>
 </g>
</svg>
<div class="t" id="dist" style="left:42px;top:791px;font-size:13px;color:#333;letter-spacing:.05px">distance (miles)</div>

<!-- table header -->
<div class="t cap" id="th1" style="left:37px;top:833.5px">REFERENCE OR BASELINE RIDE</div>
<div class="t cap" id="th2" style="left:364px;top:833.5px">ELAPSED TIME</div>
<div class="t cap" id="th3" style="left:548px;top:833.5px">DISTANCE (MILES)</div>
<div class="t cap" id="th4" style="left:813px;top:815.5px;letter-spacing:.35px">ELEVATION (FT)</div>
<div class="t cap" style="left:783px;top:833.5px">GAIN</div>
<div class="t cap" style="left:838px;top:833.5px;letter-spacing:.4px">LOSS</div>
<div class="t cap" style="left:900px;top:833.5px">CUR</div>
<div class="t cap" id="th5" style="left:1006.5px;top:815.5px;letter-spacing:.2px">SPEED (MPH)</div>
<div class="t cap" style="left:971px;top:833.5px">MIN</div>
<div class="t cap" style="left:1026px;top:833.5px">MAX</div>
<div class="t cap" style="left:1084px;top:833.5px">CUR</div>
<div class="abs" style="left:32px;top:851px;width:1100px;height:43px;background:#f8f8f8;border-top:1px solid #ddd"></div>
<div class="sq" style="left:44px;top:866px;background:#e24fe2"></div>
<div class="t b13" style="left:69px;top:858.500px">james swinden</div>
<div class="t d13" style="left:69px;top:876px">Thr, Jan. 31, 2013</div>

<!-- COMPARED RIDES -->
<div class="t cap" id="cr" style="left:40px;top:945.500px">COMPARED RIDES</div>
<div class="t cap" style="left:339px;top:945.500px;letter-spacing:.3px">GAP</div>
<div class="hr" style="left:32px;top:967px;width:351px"></div>
<div class="sq" style="left:47px;top:984px;background:#5b5bff"></div>
<div class="t b13" style="left:72px;top:977px">Nick Hamilton</div>
<div class="t d13" style="left:72px;top:994.500px">Wed, Jan. 30, 2013</div>
<div class="hr" style="left:32px;top:1018px;width:351px"></div>
<div class="sq" style="left:47px;top:1035px;background:#c9461f"></div>
<div class="t b13" style="left:72px;top:1028px">James Irwin</div>
<div class="t d13" style="left:72px;top:1045.500px">Wed, Jan. 30, 2013</div>
<div class="hr" style="left:32px;top:1069px;width:351px"></div>

<!-- LEADERBOARD PANEL -->
<div class="abs" style="left:406px;top:932px;width:725px;height:151px;border:1px solid #ddd;border-bottom:0;border-radius:4px 4px 0 0;background:#f7f7f7;overflow:hidden">
  <div class="abs" style="left:0;top:0;width:100%;height:35px;background:linear-gradient(#fbfbfb,#e9e9e9);border-bottom:1px solid #d5d5d5"></div>
  <div class="abs" style="left:0;top:111px;width:100%;height:36px;background:linear-gradient(#fbfbfb,#ebebeb);border-top:1px solid #ddd;border-bottom:1px solid #ddd"></div>
  <div class="abs" style="left:0;top:148px;width:100%;height:3px;background:#fff"></div>
  <div class="abs" style="left:34px;top:113px;width:1px;height:38px;background:#ddd"></div>
  <div class="abs" style="left:252px;top:113px;width:1px;height:38px;background:#ddd"></div>
  <div class="abs" style="left:499px;top:113px;width:1px;height:38px;background:#ddd"></div>
  <div class="abs" style="left:611px;top:113px;width:1px;height:38px;background:#ddd"></div>
</div>
<div class="t" id="lbt" style="left:415px;top:943px;font-size:14px;font-weight:bold;color:#222;letter-spacing:.3px">Add rides from the <span style="color:#fc4c02;letter-spacing:-1px;margin-right:1px">STRAVA</span> Leaderboard</div>
<div class="t" id="prr" style="left:989px;top:944px;font-size:13px;color:#333">please ride responsibly</div>
<div class="t" style="left:415px;top:978.5px;font-size:13px;color:#333;letter-spacing:.1px">show:</div>
<div class="btn on" style="left:457px;top:976.5px;width:42px;height:19px"></div>
<div class="t" style="left:467.500px;top:981px;font-size:11px;color:#333">Best</div>
<div class="t" style="left:529px;top:978.5px;font-size:13px;color:#333;letter-spacing:.1px">date:</div>
<div class="btn on" style="left:571px;top:976.5px;width:33px;height:19px;border-radius:4px 0 0 4px"></div>
<div class="t" style="left:581px;top:981px;font-size:11px;color:#333">All</div>
<div class="btn" style="left:603px;top:976.5px;width:107px;height:19px;border-radius:0"></div>
<div class="t" id="dt" style="left:612px;top:981px;font-size:11px;color:#333">Thr, Jan. 31, 2013</div>
<div class="btn" style="left:709px;top:976.5px;width:27px;height:19px;border-radius:0 4px 4px 0"></div>
<svg class="abs" style="left:716px;top:980px" width="11" height="11" viewBox="0 0 11 11" fill="#222"><rect x="0" y="0" width="3" height="3"/><rect x="4" y="0" width="3" height="3"/><rect x="8" y="0" width="3" height="3"/><rect x="0" y="4" width="3" height="3"/><rect x="4" y="4" width="3" height="3"/><rect x="8" y="4" width="3" height="3"/><rect x="0" y="8" width="3" height="3"/><rect x="4" y="8" width="3" height="3"/><rect x="8" y="8" width="3" height="3"/></svg>
<div class="abs" style="left:1026px;top:977px;width:70px;height:20px;border-radius:4px;background:linear-gradient(#46b4d4,#2f96b4);border:1px solid #2a85a0"></div>
<svg class="abs" style="left:1033px;top:980px" width="14" height="14" viewBox="0 0 14 14"><path d="M11.300 4.200A5 5 0 0 0 2.200 5.500M2.700 9.800a5 5 0 0 0 9.100-1.300" fill="none" stroke="#fff" stroke-width="2"/><path d="M13 1.500v4H9zM1 12.500v-4h4z" fill="#fff"/></svg>
<div class="t" style="left:1050px;top:981px;font-size:11px;color:#fff;font-weight:normal;text-shadow:0 -1px 0 rgba(0,0,0,.25);letter-spacing:.2px">Refresh</div>
<svg class="abs" style="left:1108px;top:981px" width="13" height="13" viewBox="0 0 13 13"><circle cx="6.500" cy="6.500" r="6" fill="#1a1a1a"/><rect x="5.600" y="5.400" width="2" height="4.300" fill="#fff"/><rect x="4.800" y="5.400" width="2" height="1" fill="#fff"/><rect x="4.800" y="9" width="3.600" height="1" fill="#fff"/><circle cx="6.500" cy="3.600" r="1.100" fill="#fff"/></svg>
<div class="t" style="left:415px;top:1017px;font-size:13px;color:#333">athlete:</div>
<div class="abs" style="left:476px;top:1011px;width:220px;height:25px;border:1px solid #aaa;border-radius:5px;background:linear-gradient(#fff 20%,#f3f3f3 50%,#eaeaea 100%);box-shadow:0 1px 1px rgba(0,0,0,.08)"></div>
<div class="t" style="left:485px;top:1017px;font-size:13px;color:#999;letter-spacing:.15px">select an athlete...</div>
<div class="abs" style="left:681px;top:1022px;width:0;height:0;border:4.500px solid transparent;border-top:5px solid #666;border-bottom:0"></div>
<svg class="abs" style="left:716.500px;top:1018px" width="13" height="13" viewBox="0 0 13 13"><circle cx="6.500" cy="6.500" r="6" fill="#1a1a1a"/><rect x="5.600" y="5.400" width="2" height="4.300" fill="#fff"/><rect x="4.800" y="5.400" width="2" height="1" fill="#fff"/><rect x="4.800" y="9" width="3.600" height="1" fill="#fff"/><circle cx="6.500" cy="3.600" r="1.100" fill="#fff"/></svg>
<div class="t" style="left:450px;top:1055px;font-size:14px;font-weight:bold;color:#333">Name</div>
<div class="t" style="left:667px;top:1055px;font-size:14px;font-weight:bold;color:#333">Date</div>
<div class="t" id="ttime" style="left:947px;top:1055px;font-size:14px;font-weight:bold;color:#333">Time</div>
<div class="t" id="tbeh" style="left:1052px;top:1055px;font-size:14px;font-weight:bold;color:#333">Behind</div>
<!-- bottom white band -->
<div class="abs" style="left:0;top:1083px;width:1156px;height:15px;background:#fff"></div>

</body>
</html>
